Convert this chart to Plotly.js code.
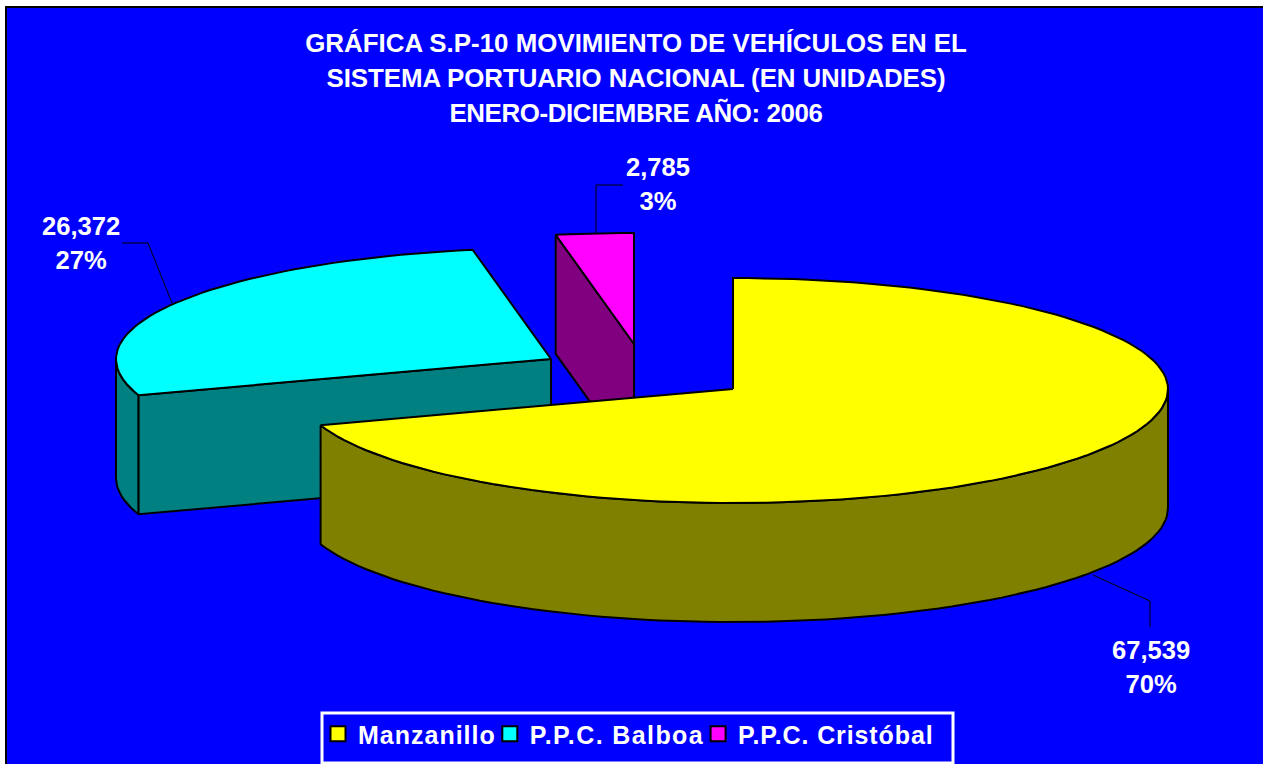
<!DOCTYPE html>
<html>
<head>
<meta charset="utf-8">
<script src="https://cdn.plot.ly/plotly-3.0.1.min.js"></script>
<style>html,body{margin:0;padding:0;background:#fff;overflow:hidden}#chart{width:1263px;height:764px}</style>
</head>
<body>
<div id="chart"></div>
<script>
const categories = ["Manzanillo", "P.P.C. Balboa", "P.P.C. Cristóbal"];
const values = [67539, 26372, 2785];
const topColors = ["#ffff00", "#00ffff", "#ff00ff"];
const sideColors = ["#808000", "#008080", "#800080"];
const titleLines = [
  "GRÁFICA S.P-10 MOVIMIENTO DE VEHÍCULOS EN EL",
  "SISTEMA PORTUARIO NACIONAL (EN UNIDADES)",
  "ENERO-DICIEMBRE AÑO: 2006"
];
const titleSpacing = [0, -0.1, -0.4];

// Projection of the tilted pie, in the page's pixel scale
const RX = 435, RY_BACK = 111, RY_FRONT = 114, DEPTH = 119;
const centers = [[733, 389], [551, 359], [634, 344]];
const labelAt = [[1151, 650, 683], [81, 226, 260], [658, 167, 201]];
const legendSpacing = [1, 1.4, 0.9];
const leaders = [
  [[1093, 575], [1150, 601], [1150, 627]],
  [[122, 243], [148, 243], [172, 303]],
  [[623, 185], [596, 185], [596, 233]]
];

const total = values.reduce((a, b) => a + b, 0);
const deg = [];
let acc = 0;
values.forEach(v => { deg.push([acc, acc + v / total * 360]); acc += v / total * 360; });

function pt(i, a, z) {
  const r = a * Math.PI / 180, c = Math.cos(r);
  return [centers[i][0] + RX * Math.sin(r), centers[i][1] - (c > 0 ? RY_BACK : RY_FRONT) * c + (z || 0)];
}
function arc(i, a0, a1, z) {
  const n = Math.max(2, Math.ceil(Math.abs(a1 - a0) / 2)), out = [];
  for (let k = 0; k <= n; k++) out.push(pt(i, a0 + (a1 - a0) * k / n, z));
  return out;
}
function poly(points, fill) {
  const closed = points.concat([points[0]]);
  return {
    type: "scatter", mode: "lines", x: closed.map(p => p[0]), y: closed.map(p => p[1]),
    fill: "toself", fillcolor: fill, line: {color: "#000", width: 2, shape: "linear"},
    hoverinfo: "skip", showlegend: false
  };
}
function topFace(i) { return poly([centers[i]].concat(arc(i, deg[i][0], deg[i][1])), topColors[i]); }
function radialWall(i, a) {
  const c = centers[i];
  return poly([c, pt(i, a), pt(i, a, DEPTH), [c[0], c[1] + DEPTH]], sideColors[i]);
}
function rimWall(i, a0, a1) {
  return poly(arc(i, a0, a1).concat(arc(i, a1, a0, DEPTH)), sideColors[i]);
}

const traces = [
  radialWall(2, deg[2][0]), topFace(2),
  rimWall(1, deg[1][0], 270), radialWall(1, deg[1][0]), topFace(1),
  rimWall(0, 90, deg[0][1]), topFace(0)
];
leaders.forEach(l => traces.push({
  type: "scatter", mode: "lines", x: l.map(p => p[0]), y: l.map(p => p[1]),
  line: {color: "#000", width: 1}, hoverinfo: "skip", showlegend: false
}));
categories.forEach((c, i) => traces.push({
  type: "scatter", mode: "markers", x: [null], y: [null],
  name: '<span style="font-size:25px;letter-spacing:' + legendSpacing[i] + 'px">' + c + '</span>',
  marker: {symbol: "square", size: 15, color: topColors[i], line: {color: "#000", width: 2}},
  hoverinfo: "skip"
}));

const annotations = values.map((v, i) => ({
  x: labelAt[i][0], y: (labelAt[i][1] + labelAt[i][2]) / 2, xref: "x", yref: "y",
  text: '<span style="font-size:25.6px">' + v.toLocaleString("en-US") + '</span><br><span style="font-size:25.6px">' +
        Math.round(v / total * 100) + '%</span>',
  showarrow: false, align: "center", xanchor: "center", yanchor: "middle",
  font: {family: "Liberation Sans, Arial, sans-serif", size: 26.2, color: "#fff", weight: 700}
}));

const layout = {
  width: 1263, height: 764, margin: {l: 0, r: 0, t: 0, b: 0, pad: 0},
  paper_bgcolor: "#fff", plot_bgcolor: "rgba(0,0,0,0)",
  xaxis: {range: [0, 1263], visible: false, fixedrange: true},
  yaxis: {range: [764, 0], visible: false, fixedrange: true},
  title: {
    text: titleLines.map((t, i) => '<span style="font-size:25.9px;letter-spacing:' + titleSpacing[i] + 'px">' + t + '</span>').join("<br>"),
    font: {family: "Liberation Sans, Arial, sans-serif", size: 26.9, color: "#fff", weight: 700},
    x: 0.5036, xanchor: "center", y: 0.9315, yanchor: "top", yref: "container"
  },
  shapes: [
    {type: "rect", layer: "below", xref: "x", yref: "y", x0: 6, x1: 1270, y0: 7, y1: 770,
     fillcolor: "#0000ff", line: {color: "#000", width: 2}},
    {type: "rect", layer: "below", xref: "x", yref: "y", x0: 322, x1: 953, y0: 713, y1: 763,
     fillcolor: "#0000ff", line: {color: "#fff", width: 3}}
  ],
  annotations: annotations,
  showlegend: true,
  legend: {
    orientation: "h", x: 329 / 1263, xanchor: "left", y: 1 - 711 / 764, yanchor: "top",
    bgcolor: "rgba(0,0,0,0)", borderwidth: 0, indentation: -11, itemclick: false, itemdoubleclick: false,
    font: {family: "Liberation Sans, Arial, sans-serif", size: 25, color: "#fff", weight: 700}
  }
};
Plotly.newPlot("chart", traces, layout, {staticPlot: true, displayModeBar: false});
</script>
</body>
</html>
